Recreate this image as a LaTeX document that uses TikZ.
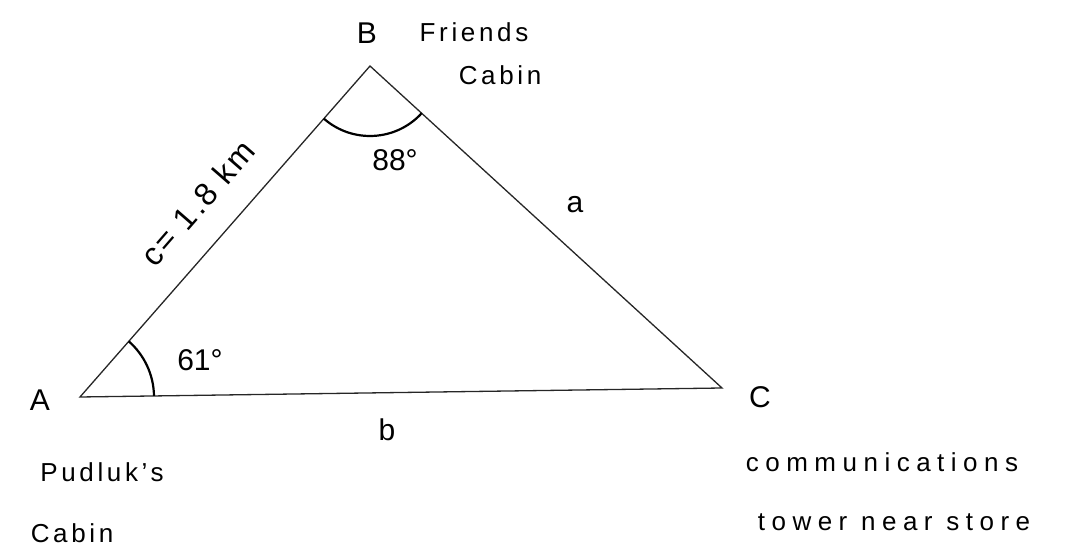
\documentclass[tikz,border=0pt]{standalone}
\usepackage{fontspec}
\setmainfont{Liberation Sans}
\usetikzlibrary{angles}
\begin{document}
\begin{tikzpicture}[x=1pt,y=1pt,
  lbl/.style={inner sep=0pt, font=\fontsize{30}{32}\selectfont},
  txt/.style={inner sep=0pt, font=\fontsize{26}{28}\selectfont\addfontfeature{LetterSpace=14}},
  widetxt/.style={inner sep=0pt, font=\fontsize{26}{28}\selectfont\addfontfeature{LetterSpace=25}},
  side/.style={line width=1.3pt, draw=black!85},
  arcmark/.style={draw, line width=2.2pt}]
\useasboundingbox (0,0) rectangle (1068,546);
\coordinate (A) at (80,149);
\coordinate (B) at (370,480);
\coordinate (C) at (722,158);
\draw[side] (A) -- (B) -- (C) -- cycle;
\pic[arcmark, angle radius=74pt] {angle = C--A--B};
\pic[arcmark, angle radius=70pt] {angle = A--B--C};
\node[lbl] (lA) at (40,146) {A};
\node[lbl] (lB) at (367,513) {B};
\node[lbl] (lC) at (760,149) {C};
\node[txt] (fr) at (474,514) {Friends};
\node[txt] (fc) at (500,471) {Cabin};
\node[lbl] (ang88) at (395,386) {88°};
\node[lbl] (sa) at (575,341) {a};
\node[inner sep=0pt, font=\fontsize{32}{34}\selectfont\addfontfeature{LetterSpace=8}, rotate=49] (sc) at (198,343) {c= 1.8 km};
\node[lbl] (ang61) at (200,186) {61°};
\node[lbl] (sb) at (387,116) {b};
\node[txt] (pu) at (102,74) {Pudluk's};
\node[txt] (pc) at (72,13) {Cabin};
\node[widetxt] (co) at (882,84) {communications};
\node[widetxt] (tw) at (894,24) {tower near store};
\end{tikzpicture}
\end{document}
